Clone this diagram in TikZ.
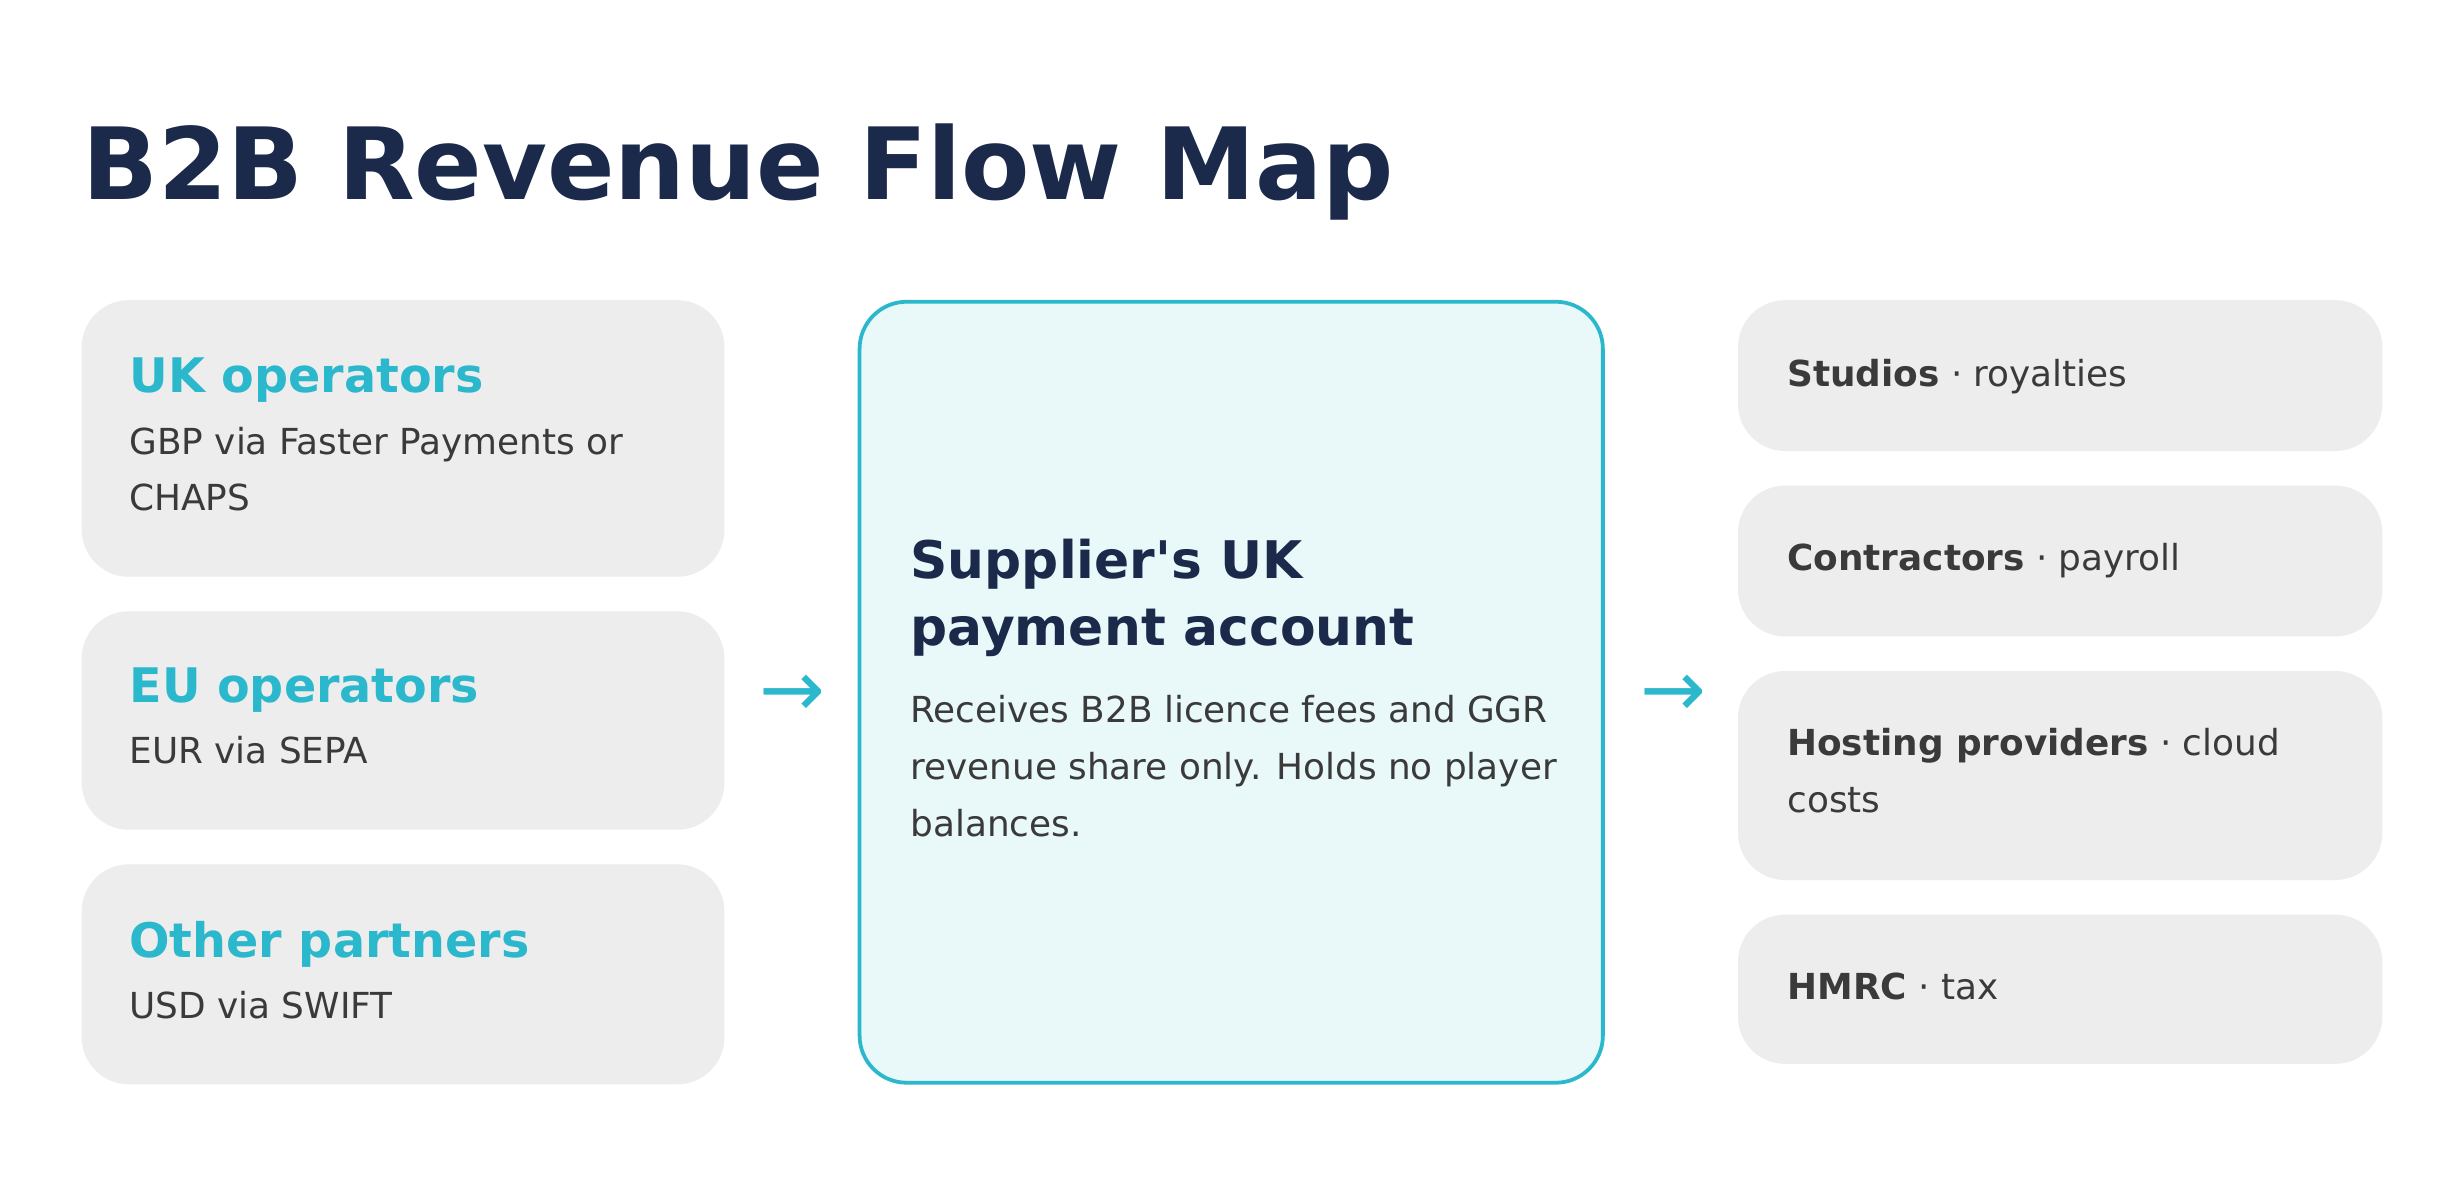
\documentclass[tikz,border=0pt]{standalone}
\usepackage{fontspec}
\setmainfont{DejaVu Sans}
\definecolor{navy}{HTML}{1B2A4A}
\definecolor{cyanc}{HTML}{2BB8CC}
\definecolor{boxg}{HTML}{EDEDED}
\definecolor{txt}{HTML}{3A3A3A}
\definecolor{cfill}{HTML}{E9F8F9}
\begin{document}
\begin{tikzpicture}[x=0.5pt,y=-0.5pt,
  card/.style={fill=boxg,draw=none,rounded corners=15pt},
  t/.style={anchor=base west,inner sep=0pt,text=txt,font=\fontsize{11.4pt}{13pt}\selectfont},
  h/.style={anchor=base west,inner sep=0pt,text=cyanc,font=\fontsize{15.15pt}{17pt}\selectfont\bfseries},
  ch/.style={anchor=base west,inner sep=0pt,text=navy,font=\fontsize{16.5pt}{19pt}\selectfont\bfseries},
  arr/.style={text=cyanc,font=\fontsize{25pt}{27pt}\selectfont,inner sep=0pt}]
\useasboundingbox[fill=white] (0,0) rectangle (1568,757);
\node[anchor=base west,inner sep=0pt,text=navy,font=\fontsize{31.7pt}{36pt}\selectfont\bfseries] (title) at (52,127) {B2B Revenue Flow Map};
% left
\path[card] (52,191) rectangle (461,367);
\path[card] (52,389) rectangle (461,528);
\path[card] (52,550) rectangle (461,690);
\node[h] (uk) at (82,250) {UK operators};
\node[t] (uk1) at (82,289) {GBP via Faster Payments or};
\node[t] (uk2) at (82,325) {CHAPS};
\node[h] (eu) at (82,447) {EU operators};
\node[t] (eu1) at (82,486) {EUR via SEPA};
\node[h] (ot) at (82,609) {Other partners};
\node[t] (ot1) at (82,648) {USD via SWIFT};
% center
\path[fill=cfill,draw=cyanc,line width=1.2pt,rounded corners=15pt] (547,192) rectangle (1020,689);
\node[ch] (c1) at (579,368) {Supplier\textquotesingle s UK};
\node[ch] (c2) at (579,411) {payment account};
\node[t] (c3) at (579,460) {Receives B2B licence fees and GGR};
\node[t] (c4) at (579,496) {revenue share only. Holds no player};
\node[t] (c5) at (579,532) {balances.};
% arrows
\node[arr] (a1) at (504,443) {→};
\node[arr] (a2) at (1065,443) {→};
% right
\path[card] (1106,191) rectangle (1516,287);
\path[card] (1106,309) rectangle (1516,405);
\path[card] (1106,427) rectangle (1516,560);
\path[card] (1106,582) rectangle (1516,677);
\node[t] (r1) at (1137,246) {\textbf{Studios} · royalties};
\node[t] (r2) at (1137,363) {\textbf{Contractors} · payroll};
\node[t] (r3) at (1137,481) {\textbf{Hosting providers} · cloud};
\node[t] (r3b) at (1137,517) {costs};
\node[t] (r4) at (1137,636) {\textbf{HMRC} · tax};
\end{tikzpicture}
\end{document}
